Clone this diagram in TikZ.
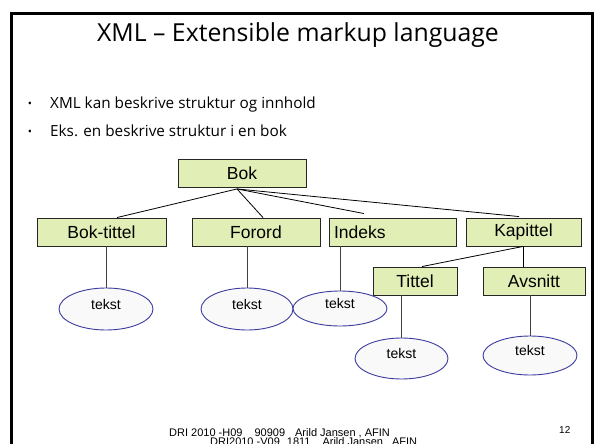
\documentclass[tikz,border=0pt]{standalone}
\usepackage{fontspec}
\setmainfont{Liberation Sans}
\newfontfamily\slidefont{Open Sans}
\usetikzlibrary{shapes.geometric,calc}

\definecolor{boxfill}{HTML}{E1EEB5}
\definecolor{ovalline}{HTML}{3C3CA0}
\definecolor{ovalfill}{HTML}{F9F9F9}
\definecolor{stem}{HTML}{404040}

\tikzset{
  elem/.style={draw=black!85, fill=boxfill, line width=0.9pt, inner sep=0pt,
    font=\fontsize{17.5}{20}\selectfont, minimum height=28pt},
  leaf/.style={ellipse, draw=ovalline, fill=ovalfill, line width=0.9pt, inner sep=0pt,
    font=\fontsize{14}{16}\selectfont, text height=10pt, text depth=10pt},
  link/.style={draw=black, line width=0.8pt},
  stemline/.style={draw=stem, line width=0.8pt},
  frame/.style={line width=3pt, black}
}

\begin{document}
\begin{tikzpicture}[x=1pt, y=-1pt]
  \useasboundingbox (0,0) rectangle (597,444);
  \fill[white] (0,0) rectangle (597,444);

  % slide frame (open at the bottom)
  \draw[frame] (11.5,450) -- (11.5,13.5) -- (592.5,13.5) -- (592.5,450);

  % title and bullets
  \node[anchor=base, font=\slidefont\fontsize{24.8}{28}\selectfont] (title) at (298,41.5)
    {XML – Extensible markup language};
  \node[anchor=base, font=\slidefont\fontsize{11}{12}\selectfont] (b1) at (30,107) {•};
  \node[anchor=base west, inner xsep=0pt, font=\slidefont\fontsize{15.3}{18}\selectfont] (t1) at (50,108)
    {XML kan beskrive struktur og innhold};
  \node[anchor=base, font=\slidefont\fontsize{11}{12}\selectfont] (b2) at (30,135) {•};
  \node[anchor=base west, inner xsep=0pt, font=\slidefont\fontsize{15.3}{18}\selectfont] (t2) at (50,136)
    {Eks. en beskrive struktur i en bok};

  % element boxes
  \node[elem, minimum width=128pt] (bok)   at (242,173.5) {Bok};
  \node[elem, minimum width=129pt] (btit)  at (101.5,232) {Bok-tittel};
  \node[elem, minimum width=128pt] (forord) at (256,232) {Forord};
  \node[elem, text width=117pt, inner xsep=5pt, align=left] (indeks) at (392.5,232) {Indeks};
  \node[elem, minimum width=115pt] (kap)   at (523.5,232) {Kapittel};
  \node[elem, minimum width=84pt]  (tit)   at (415,281) {Tittel};
  \node[elem, minimum width=102pt] (avs)   at (534,281) {Avsnitt};

  % text leaves
  \node[leaf, minimum width=94pt, minimum height=42pt] (e1) at (106,309) {tekst};
  \node[leaf, minimum width=92pt, minimum height=42pt] (e2) at (247,309) {tekst};
  \node[leaf, minimum width=94pt, minimum height=35pt] (e3) at (340,308.5) {tekst};
  \node[leaf, minimum width=93pt, minimum height=41pt] (e4) at (401.5,358.5) {tekst};
  \node[leaf, minimum width=94pt, minimum height=39pt] (e5) at (530,355.5) {tekst};

  % tree edges
  \coordinate (bokfoot) at ([xshift=-5pt, yshift=-1pt]bok.south);
  \coordinate (indeksend) at ([xshift=-28.5pt, yshift=4pt]indeks.north);
  \draw[link] (bokfoot) -- ([xshift=15.5pt]btit.north);
  \draw[link] (bokfoot) -- ([xshift=7pt]forord.north);
  \draw[link] (bokfoot) -- (indeksend);
  \draw[link] (bokfoot) -- ([xshift=-4.5pt, yshift=1pt]kap.north);
  \draw[link] ([xshift=-0.5pt]kap.south) -- ([xshift=7pt]tit.north);
  \draw[link] ([xshift=-0.5pt]kap.south) -- ([xshift=-11pt]avs.north);

  % stems down to the text leaves
  \draw[stemline] (e1.north) -- (e1.north |- btit.south);
  \draw[stemline] (e2.north) -- (e2.north |- forord.south);
  \draw[stemline] (e3.north) -- (e3.north |- indeks.south);
  \draw[stemline] (e4.north) -- (e4.north |- tit.south);
  \draw[stemline] (e5.north) -- (e5.north |- avs.south);

  % footer (second line runs off the lower edge of the page)
  \node[anchor=base west, inner xsep=0pt, font=\fontsize{11}{13}\selectfont] (foot1) at (169,436)
    {DRI 2010 -H09\hspace{12pt}90909\hspace{10pt}Arild Jansen , AFIN};
  \node[anchor=base west, inner xsep=0pt, font=\fontsize{11}{13}\selectfont] (foot2) at (210,445.5)
    {DRI2010 -V09\hspace{7pt}1811\hspace{12pt}Arild Jansen\hspace{9pt}AFIN};
  \node[anchor=base west, inner xsep=0pt, font=\fontsize{10}{12}\selectfont] (pnum) at (559,433) {12};
\end{tikzpicture}
\end{document}
